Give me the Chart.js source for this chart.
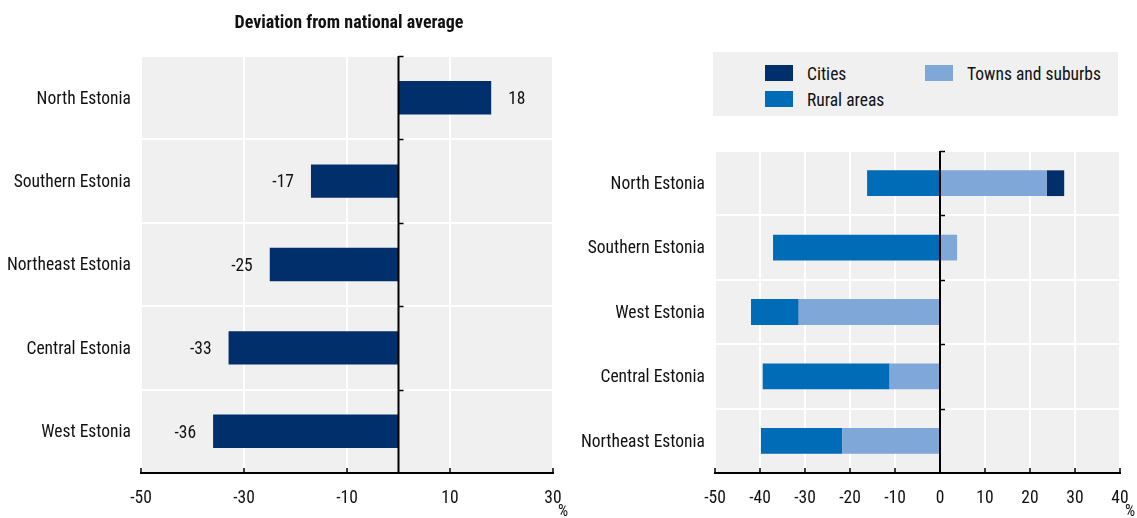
<!DOCTYPE html>
<html>
<head>
<meta charset="utf-8">
<script src="https://cdn.jsdelivr.net/npm/chart.js@4"></script>
<style>
  html, body { margin: 0; padding: 0; background: #fff; }
  body { width: 1137px; height: 518px; position: relative; overflow: hidden;
         font-family: "Roboto Condensed", "Liberation Sans", Arial, sans-serif; }
  canvas { position: absolute; top: 0; }
  #left { left: 0; }
  #right { left: 575px; }
  .legend { position: absolute; left: 713px; top: 52px; width: 405px; height: 64px; background: #f0f0f0; }
  .item { position: absolute; height: 16px; }
  .sw { position: absolute; left: 0; top: 0; width: 28px; height: 16px; }
  .lab { position: absolute; left: 42px; top: -2px; font-size: 17.5px; line-height: 22px; color: #111; white-space: nowrap; }
</style>
</head>
<body>
<canvas id="left" width="575" height="518"></canvas>
<canvas id="right" width="562" height="518"></canvas>
<div class="legend" id="legend"></div>
<script>
// Regional deviation from the national average (%)
const regionsLeft = ["North Estonia", "Southern Estonia", "Northeast Estonia", "Central Estonia", "West Estonia"];
const deviationTotal = [18, -17, -25, -33, -36];
const ticksLeft = [-50, -30, -10, 10, 30];

// Breakdown by degree of urbanisation (%)
const regionsRight = ["North Estonia", "Southern Estonia", "West Estonia", "Central Estonia", "Northeast Estonia"];
const townsSuburbs = [23.7, 3.8, -31.4, -11.2, -21.7];
const ruralAreas = [-16.2, -37.1, -10.6, -28.2, -18.1];
const cities = [3.9, 0, 0, 0, 0];
const ticksRight = [-50, -40, -30, -20, -10, 0, 10, 20, 30, 40];

const NAVY = "#002f6c", RURAL = "#006bb6", TOWNS = "#7fa7d8", PANEL = "#f0f0f0";
const FONT = '"Roboto Condensed", "Liberation Sans", Arial, sans-serif';
const FS = 17.5;

// panel background behind the grid
const panelBg = {
  id: "panelBg",
  beforeDraw(chart) {
    const a = chart.chartArea, c = chart.ctx;
    c.save(); c.fillStyle = PANEL;
    c.fillRect(a.left, a.top, a.right - a.left, a.bottom - a.top);
    c.restore();
  }
};

// zero line with category ticks, inward x-axis ticks and the % unit
const axisMarks = {
  id: "axisMarks",
  afterDatasetsDraw(chart) {
    const a = chart.chartArea, c = chart.ctx;
    const xs = chart.scales.x, ys = chart.scales.y;
    const x0 = xs.getPixelForValue(0);
    const n = ys.ticks.length;
    c.save();
    c.strokeStyle = "#000";
    c.lineWidth = 2;
    c.beginPath(); c.moveTo(x0, a.top); c.lineTo(x0, a.bottom); c.stroke();
    c.lineWidth = 1.5;
    for (let i = 0; i < n; i++) {
      const y = Math.round(a.top + i * (a.bottom - a.top) / n) + 0.5;
      c.beginPath(); c.moveTo(x0, y); c.lineTo(x0 + 5, y); c.stroke();
    }
    xs.ticks.forEach(t => {
      const x = xs.getPixelForValue(t.value);
      c.beginPath(); c.moveTo(x, a.bottom); c.lineTo(x, a.bottom - 5); c.stroke();
    });
    c.fillStyle = "#111";
    c.font = "16px " + FONT;
    c.textAlign = "center"; c.textBaseline = "middle";
    c.fillText("%", a.right + 10, 512);
    c.restore();
  }
};

// value labels beside each bar
const valueLabels = {
  id: "valueLabels",
  afterDatasetsDraw(chart) {
    const c = chart.ctx;
    const meta = chart.getDatasetMeta(0);
    c.save();
    c.fillStyle = "#111";
    c.font = FS + "px " + FONT;
    c.textBaseline = "middle";
    meta.data.forEach((bar, i) => {
      const v = chart.data.datasets[0].data[i];
      if (v >= 0) { c.textAlign = "left"; c.fillText(String(v), bar.x + 17, bar.y + 2); }
      else { c.textAlign = "right"; c.fillText(String(v), bar.x - 17, bar.y + 2); }
    });
    c.restore();
  }
};

// heading centred over the plot
const heading = {
  id: "heading",
  afterDraw(chart) {
    const a = chart.chartArea, c = chart.ctx;
    c.save();
    c.fillStyle = "#111";
    c.font = "bold 18px " + FONT;
    c.textAlign = "center"; c.textBaseline = "middle";
    c.fillText("Deviation from national average", (a.left + a.right) / 2 + 2, 23);
    c.restore();
  }
};

function scalesFor(tickList, yWidth, stacked) {
  return {
    x: {
      min: tickList[0], max: tickList[tickList.length - 1],
      stacked: stacked,
      afterBuildTicks: s => { s.ticks = tickList.map(v => ({ value: v })); },
      grid: { color: "#ffffff", lineWidth: 2, drawTicks: false },
      border: { display: true, color: "#000", width: 2 },
      ticks: { color: "#111", font: { family: FONT, size: FS }, padding: 15, maxRotation: 0, autoSkip: false },
      afterFit: s => { s.height = 45; s.paddingLeft = 0; s.paddingRight = 0; }
    },
    y: {
      stacked: stacked,
      grid: { color: "#ffffff", lineWidth: 2, offset: true, drawTicks: false },
      border: { display: false },
      ticks: { color: "#111", font: { family: FONT, size: FS }, padding: 10, labelOffset: 1.5 },
      afterFit: s => { s.width = yWidth; }
    }
  };
}

const common = {
  indexAxis: "y",
  responsive: false,
  animation: false,
  devicePixelRatio: 1,
  plugins: { legend: { display: false }, tooltip: { enabled: false } }
};

new Chart(document.getElementById("left"), {
  type: "bar",
  data: {
    labels: regionsLeft,
    datasets: [{ data: deviationTotal, backgroundColor: NAVY, barPercentage: 0.4, categoryPercentage: 1 }]
  },
  options: Object.assign({}, common, {
    layout: { padding: { top: 56, right: 22, left: 0, bottom: 0 } },
    scales: scalesFor(ticksLeft, 141, false)
  }),
  plugins: [panelBg, axisMarks, valueLabels, heading]
});

const seriesRight = [
  { label: "Towns and suburbs", data: townsSuburbs, color: TOWNS },
  { label: "Rural areas", data: ruralAreas, color: RURAL },
  { label: "Cities", data: cities, color: NAVY }
];

new Chart(document.getElementById("right"), {
  type: "bar",
  data: {
    labels: regionsRight,
    datasets: seriesRight.map(s => ({
      label: s.label, data: s.data, backgroundColor: s.color,
      barPercentage: 0.4, categoryPercentage: 1
    }))
  },
  options: Object.assign({}, common, {
    layout: { padding: { top: 151, right: 17, left: 0, bottom: 0 } },
    scales: scalesFor(ticksRight, 140, true)
  }),
  plugins: [panelBg, axisMarks]
});

// legend, laid out in two columns
const legendItems = [
  { label: "Cities", color: NAVY, x: 52, y: 13 },
  { label: "Rural areas", color: RURAL, x: 52, y: 39 },
  { label: "Towns and suburbs", color: TOWNS, x: 212, y: 13 }
];
const lg = document.getElementById("legend");
legendItems.forEach(it => {
  const d = document.createElement("div");
  d.className = "item";
  d.style.left = it.x + "px"; d.style.top = it.y + "px";
  d.innerHTML = '<div class="sw" style="background:' + it.color + '"></div><div class="lab"></div>';
  d.querySelector(".lab").textContent = it.label;
  lg.appendChild(d);
});
</script>
</body>
</html>
